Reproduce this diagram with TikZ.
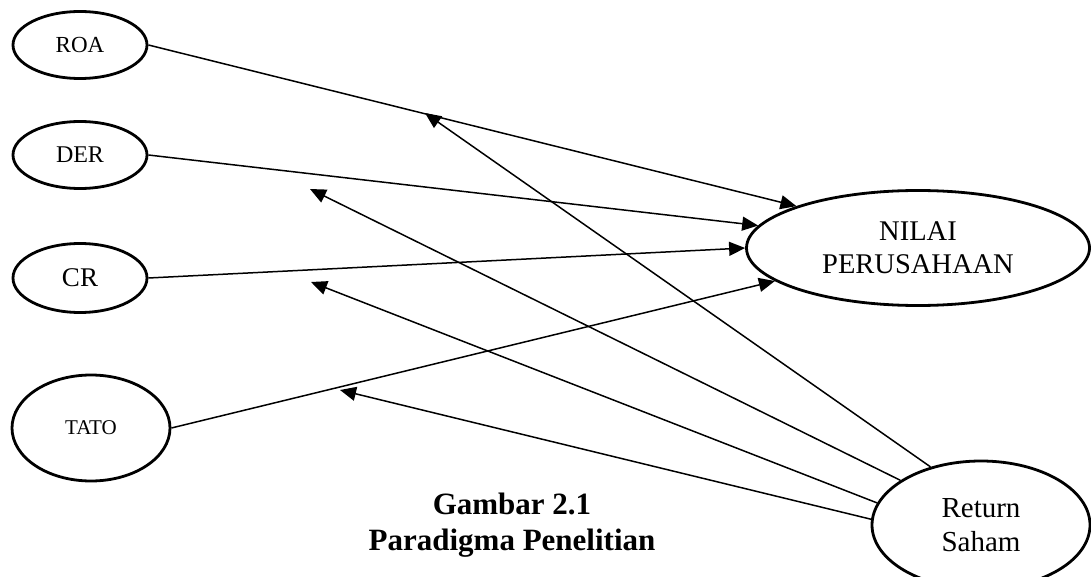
\documentclass[tikz,border=0pt]{standalone}
\usepackage{fontspec}
\setmainfont{Liberation Serif}
\usetikzlibrary{positioning}
\usetikzlibrary{shapes.geometric}
\usetikzlibrary{arrows.meta}

\begin{document}
\begin{tikzpicture}[x=1pt,y=-1pt,
  var/.style={draw,ellipse,line width=2.8pt,inner sep=0pt,align=center},
  link/.style={line width=1.5pt,-{Triangle[length=16pt,width=14pt]}}]
\useasboundingbox (0,0) rectangle (1091,577);
% variabel bebas
\node[var,minimum width=134pt,minimum height=67pt,font=\fontsize{23}{27}\selectfont] (roa) at (80,45) {ROA};
\node[var,minimum width=134pt,minimum height=67pt,font=\fontsize{24}{28}\selectfont] (der) at (80,155) {DER};
\node[var,minimum width=134pt,minimum height=69pt,font=\fontsize{27}{31}\selectfont] (cr) at (80,278) {CR};
\node[var,minimum width=158pt,minimum height=106pt,font=\fontsize{21}{25}\selectfont] (tato) at (91,428) {TATO};
% variabel terikat
\node[var,minimum width=343pt,minimum height=115pt,font=\fontsize{28.5}{33}\selectfont] (nilai) at (918,248) {NILAI\\PERUSAHAAN};
\node[var,minimum width=218pt,minimum height=128pt,font=\fontsize{29}{34}\selectfont] (ret) at (981,525) {Return\\Saham};
\node[font=\bfseries\fontsize{31}{36}\selectfont,align=center] (judul) at (512,525) {Gambar 2.1\\Paradigma Penelitian};
% ujung panah bebas
\coordinate (p1) at (425,113);
\coordinate (p2) at (310,189);
\coordinate (p3) at (311,282);
\coordinate (p4) at (340,390);
% panah
\draw[link] (roa.east) -- (nilai.161);
\draw[link] (der.east) -- (nilai.172);
\draw[link] (cr.east) -- (nilai.west);
\draw[link] (tato.east) -- (nilai.193);
\draw[link] (ret.131) -- (p1);
\draw[link] (ret.151) -- (p2);
\draw[link] (ret.168) -- (p3);
\draw[link] (ret.177) -- (p4);
\end{tikzpicture}
\end{document}
